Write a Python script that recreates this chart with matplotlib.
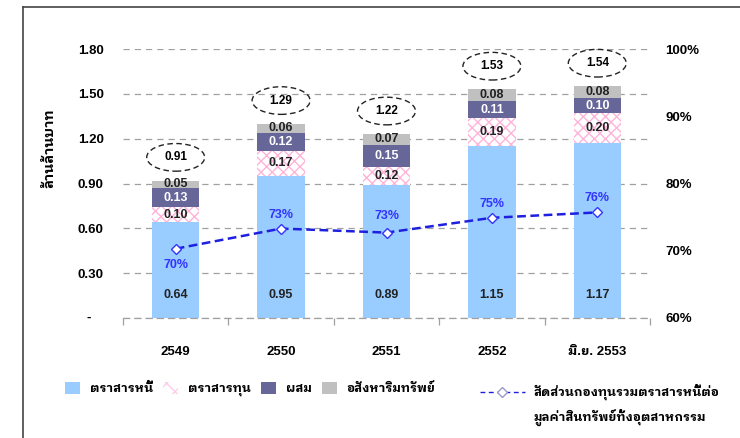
import numpy as np
import matplotlib
matplotlib.use("Agg")
import matplotlib.pyplot as plt
from matplotlib.patches import Ellipse, Patch
from matplotlib.lines import Line2D

plt.rcParams['font.family'] = ['Liberation Sans', 'IBM Plex Sans Thai Looped']
plt.rcParams['hatch.linewidth'] = 1.0

# ---------------- data ----------------
years = ['2549', '2550', '2551', '2552', 'มิ.ย. 2553']
debt = [0.64, 0.95, 0.89, 1.15, 1.17]        # ตราสารหนี้
equity = [0.10, 0.17, 0.12, 0.19, 0.20]      # ตราสารทุน
mixed = [0.13, 0.12, 0.15, 0.11, 0.10]       # ผสม
prop = [0.05, 0.06, 0.07, 0.08, 0.08]        # อสังหาริมทรัพย์
totals = [0.91, 1.29, 1.22, 1.53, 1.54]
debt_share = [70.3, 73.3, 72.7, 74.9, 75.7]  # %
share_labels = ['70%', '73%', '73%', '75%', '76%']

series_names = ['ตราสารหนี้', 'ตราสารทุน', 'ผสม', 'อสังหาริมทรัพย์']
line_name_1 = 'สัดส่วนกองทุนรวมตราสารหนี้ต่อ'
line_name_2 = 'มูลค่าสินทรัพย์ทั้งอุตสาหกรรม'

C_DEBT = '#99CCFF'
C_HATCH = '#FFB3D9'
C_MIX = '#666699'
C_PROP = '#C0C0C0'
C_LINE = '#1F1FE0'
C_PCT = '#3333FF'

W, H = 740, 438
fig = plt.figure(figsize=(W / 100, H / 100), dpi=100)
ax = fig.add_axes([123 / W, 1 - 318 / H, 527 / W, 269 / H])

x = np.arange(len(years))
bw = 0.45
b1 = np.array(debt)
b2 = b1 + np.array(equity)
b3 = b2 + np.array(mixed)

ax.bar(x, debt, bw, color=C_DEBT, linewidth=0, zorder=2)
ax.bar(x, equity, bw, bottom=b1, color='white', edgecolor=C_HATCH,
       hatch='xxx', linewidth=0, zorder=2)
ax.bar(x, mixed, bw, bottom=b2, color=C_MIX, linewidth=0, zorder=2)
ax.bar(x, prop, bw, bottom=b3, color=C_PROP, linewidth=0, zorder=2)

lab = dict(ha='center', va='center', fontsize=9, fontweight='bold', zorder=3)
for i in x:
    ax.text(i, 0.155, f'{debt[i]:.2f}', color='#222222', **lab)
    ax.text(i, b1[i] + equity[i] / 2, f'{equity[i]:.2f}', color='#222222', **lab)
    ax.text(i, b2[i] + mixed[i] / 2, f'{mixed[i]:.2f}', color='white', **lab)
    ax.text(i, b3[i] + prop[i] / 2, f'{prop[i]:.2f}', color='#222222', **lab)
    top = b3[i] + prop[i]
    ax.add_patch(Ellipse((i, top + 0.155), 0.55, 0.185, fill=False,
                         ls=(0, (4, 2.5)), lw=1.0, ec='#222222', clip_on=False))
    ax.text(i, top + 0.155, f'{totals[i]:.2f}', ha='center', va='center',
            fontsize=8.5, fontweight='bold', color='black')

ax.set_xlim(-0.5, 4.5)
ax.set_ylim(0, 1.8)
ax.set_axisbelow(True)
ax.yaxis.grid(True, ls=(0, (5, 4)), color='#A0A0A0', lw=0.9)
for s in ['top', 'left', 'right']:
    ax.spines[s].set_visible(False)
ax.spines['bottom'].set_linestyle((0, (5, 4)))
ax.spines['bottom'].set_color('#A0A0A0')
ax.spines['bottom'].set_linewidth(0.9)

ax.set_xticks(x)
ax.set_xticklabels(years, fontsize=9.5, fontweight='bold')
ax.set_xticks(np.arange(-0.5, 4.6, 1), minor=True)
ax.tick_params(axis='x', which='major', length=0, pad=20)
ax.tick_params(axis='x', which='minor', length=5, color='#A0A0A0', width=0.9)

yt = np.arange(0, 1.81, 0.3)
ax.set_yticks(yt)
ax.set_yticklabels([''] + [f'{v:.2f}' for v in yt[1:]], fontsize=9.5,
                   fontweight='bold')
ax.tick_params(axis='y', length=0, pad=14)
ax.text(-0.066, 0, '-', transform=ax.get_yaxis_transform(), ha='center',
        va='center', fontsize=9.5, fontweight='bold')

ax2 = ax.twinx()
ax2.set_ylim(60, 100)
for s in ax2.spines.values():
    s.set_visible(False)
ax2.set_yticks(np.arange(60, 101, 10))
ax2.set_yticklabels([f'{v}%' for v in range(60, 101, 10)], fontsize=9.5,
                    fontweight='bold')
ax2.tick_params(axis='y', length=0, pad=11)
ax2.plot(x, debt_share, ls=(0, (3.5, 1.8)), color=C_LINE, lw=1.8,
         marker='D', ms=5.5, mfc='white', mec=C_PCT, mew=1.0, zorder=4)
offsets = [-2.4, 2.0, 2.4, 2.0, 2.1]
for i in x:
    ax2.text(i, debt_share[i] + offsets[i], share_labels[i], ha='center',
             va='center', fontsize=9, fontweight='bold', color=C_PCT)

fig.text(50 / W, 1 - 148 / H, 'ล้านล้านบาท', rotation=90, ha='center',
         va='center', fontsize=10, fontweight='bold')

handles = [Patch(facecolor=C_DEBT, edgecolor='none'),
           Patch(facecolor='white', edgecolor='#FFCCEE', hatch='xx', lw=0),
           Patch(facecolor=C_MIX, edgecolor='none'),
           Patch(facecolor=C_PROP, edgecolor='none')]
leg1 = fig.legend(handles, series_names, loc='center left',
                  bbox_to_anchor=(55 / W, 1 - 389 / H), ncol=4, frameon=False,
                  handlelength=1.2, handleheight=1.2, handletextpad=0.8,
                  columnspacing=0.8, prop={'size': 9, 'weight': 'bold'},
                  borderpad=0.3)
line_h = Line2D([], [], ls=(0, (3.5, 2.5)), color=C_LINE, lw=1.0, marker='D',
                ms=5.5, mfc='white', mec='#9999CC')
leg2 = fig.legend([line_h], [line_name_1], loc='center left',
                  bbox_to_anchor=(470 / W, 1 - 392 / H), frameon=False,
                  handlelength=3.6, handletextpad=0.7,
                  prop={'size': 9, 'weight': 'bold'}, borderpad=0.3)
fig.canvas.draw()
t = leg2.get_texts()[0].get_window_extent()
fig.text(t.x0 / W, 1 - 417 / H, line_name_2, ha='left', va='center',
         fontsize=9, fontweight='bold')

# frame corner
fig.add_artist(Line2D([23 / W, 23 / W], [0, 1 - 7 / H], color='#444444', lw=1.2))
fig.add_artist(Line2D([23 / W, 1], [1 - 7 / H, 1 - 7 / H], color='#444444', lw=1.2))

fig.savefig('out.png', dpi=100)
